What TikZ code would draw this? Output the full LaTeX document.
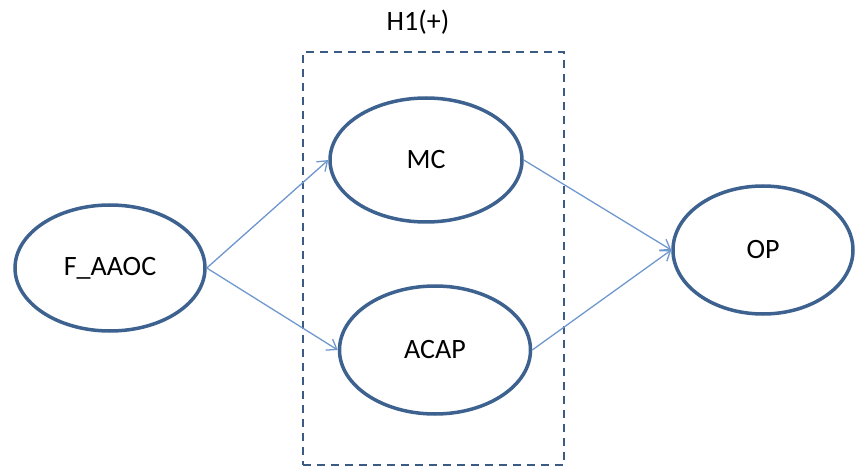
\documentclass[tikz,border=0pt]{standalone}
\usepackage{fontspec}
\setmainfont{Carlito}
\usetikzlibrary{shapes.geometric,arrows.meta}
\definecolor{ellc}{HTML}{3D6290}
\definecolor{arrc}{HTML}{6F98CE}
\definecolor{boxc}{HTML}{3B5B85}
\tikzset{
  var/.style={ellipse, draw=ellc, line width=3.5pt, inner sep=0pt, font=\fontsize{28}{32}\selectfont},
  link/.style={draw=arrc, line width=1.3pt, -{Straight Barb[length=9pt,width=13pt,line width=1.3pt]}},
  hbox/.style={draw=boxc, line width=2.4pt, dash pattern=on 8pt off 6pt}
}
\begin{document}
\begin{tikzpicture}[x=1pt,y=-1pt]
\useasboundingbox (0,0) rectangle (855,468);
\node[hbox, minimum width=261pt, minimum height=413pt, inner sep=0pt] (box) at (433.5,258.5) {};
\node[font=\fontsize{28}{32}\selectfont] (h1) at (418,22) {H1(+)};
\node[var, minimum width=190pt, minimum height=126pt] (f) at (110,268) {F\_AAOC};
\node[var, minimum width=192pt, minimum height=124pt] (mc) at (426,160) {MC};
\node[var, minimum width=191pt, minimum height=128pt] (acap) at (435,350) {ACAP};
\node[var, minimum width=180pt, minimum height=128pt] (op) at (763,250) {OP};
\draw[link] (f.east) -- (mc.west);
\draw[link] (f.east) -- (acap.west);
\draw[link] (mc.east) -- (op.west);
\draw[link] (acap.east) -- (op.west);
\end{tikzpicture}
\end{document}
